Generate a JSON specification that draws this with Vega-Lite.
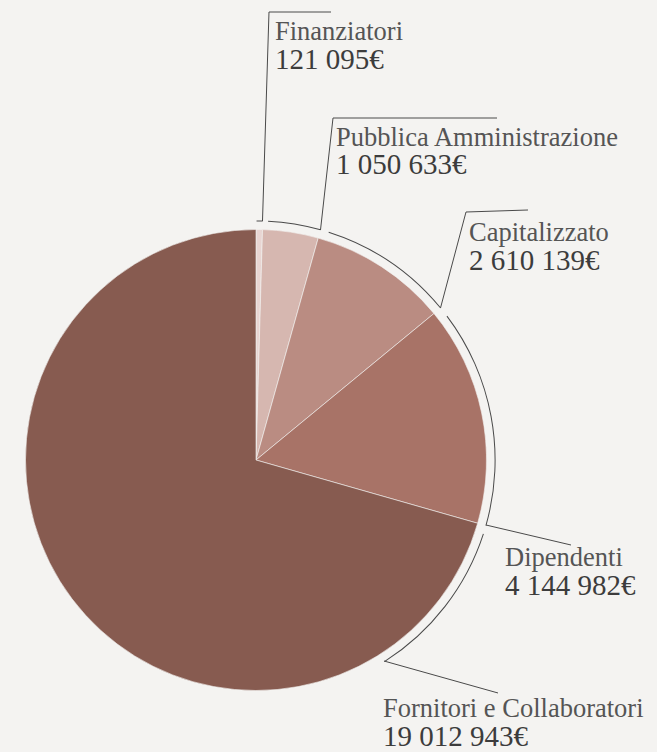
{
  "$schema": "https://vega.github.io/schema/vega-lite/v6.json",
  "width": 657,
  "height": 752,
  "autosize": {"type": "fit", "contains": "padding"},
  "padding": 0,
  "background": "#f4f3f1",
  "config": {
    "view": {"stroke": null},
    "locale": {"number": {"decimal": ",", "thousands": " ", "grouping": [3], "currency": ["", "€"]}}
  },
  "datasets": {
    "slices": [
      {"name": "Finanziatori", "value": 121095, "ord": 1, "lx": 0.0824, "ly": 1.8221},
      {"name": "Pubblica Amministrazione", "value": 1050633, "ord": 2, "lx": 0.3471, "ly": 1.3623},
      {"name": "Capitalizzato", "value": 2610139, "ord": 3, "lx": 0.9241, "ly": 0.9501},
      {"name": "Dipendenti", "value": 4144982, "ord": 4, "lx": 1.0803, "ly": -0.4599},
      {"name": "Fornitori e Collaboratori", "value": 19012943, "ord": 5, "lx": 0.551, "ly": -1.115}
    ],
    "ring": [
      {"name": "Finanziatori", "t0": 10000, "t1": 121095},
      {"name": "Pubblica Amministrazione", "t0": 217015, "t1": 1171728},
      {"name": "Capitalizzato", "t0": 1324540, "t1": 3781867},
      {"name": "Dipendenti", "t0": 3966136, "t1": 7926849},
      {"name": "Fornitori e Collaboratori", "t0": 8081938, "t1": 11037832}
    ],
    "leaders": [
      {"name": "Finanziatori", "seq": 1, "x": 0.0282, "y": 1.0369},
      {"name": "Finanziatori", "seq": 2, "x": 0.0564, "y": 1.9436},
      {"name": "Finanziatori", "seq": 3, "x": 0.3254, "y": 1.9436},
      {"name": "Pubblica Amministrazione", "seq": 1, "x": 0.2798, "y": 0.9978},
      {"name": "Pubblica Amministrazione", "seq": 2, "x": 0.3341, "y": 1.4837},
      {"name": "Pubblica Amministrazione", "seq": 3, "x": 1.0456, "y": 1.4837},
      {"name": "Capitalizzato", "seq": 1, "x": 0.8004, "y": 0.6594},
      {"name": "Capitalizzato", "seq": 2, "x": 0.9111, "y": 1.0759},
      {"name": "Capitalizzato", "seq": 3, "x": 1.18, "y": 1.0846},
      {"name": "Dipendenti", "seq": 1, "x": 0.9978, "y": -0.282},
      {"name": "Dipendenti", "seq": 2, "x": 1.3666, "y": -0.3688},
      {"name": "Fornitori e Collaboratori", "seq": 1, "x": 0.5553, "y": -0.872},
      {"name": "Fornitori e Collaboratori", "seq": 2, "x": 1.0499, "y": -1.0108}
    ]
  },
  "resolve": {"scale": {"x": "shared", "y": "shared", "theta": "shared"}},
  "layer": [
    {
      "data": {"name": "slices"},
      "mark": {"type": "arc", "outerRadius": 230.5, "stroke": "#f4f3f1", "strokeWidth": 0.6},
      "encoding": {
        "x": {"datum": 0, "type": "quantitative", "scale": {"domain": [-1.1106, 1.7397], "nice": false, "zero": false}, "axis": null},
        "y": {"datum": 0, "type": "quantitative", "scale": {"domain": [-1.2668, 1.9957], "nice": false, "zero": false}, "axis": null},
        "theta": {"field": "value", "type": "quantitative", "stack": true, "scale": {"domain": [0, 26939792], "range": [0, 6.283185307]}},
        "order": {"field": "ord", "type": "quantitative"},
        "color": {
          "field": "name", "type": "nominal", "legend": null,
          "scale": {
            "domain": ["Finanziatori", "Pubblica Amministrazione", "Capitalizzato", "Dipendenti", "Fornitori e Collaboratori"],
            "range": ["#e8d5d2", "#d6b7b0", "#ba8c82", "#a87367", "#875b50"]
          }
        }
      }
    },
    {
      "data": {"name": "ring"},
      "mark": {"type": "arc", "innerRadius": 238.6, "outerRadius": 239.6, "fill": "#4a4a4a"},
      "encoding": {
        "x": {"datum": 0, "type": "quantitative"},
        "y": {"datum": 0, "type": "quantitative"},
        "theta": {"field": "t0", "type": "quantitative"},
        "theta2": {"field": "t1"}
      }
    },
    {
      "data": {"name": "leaders"},
      "mark": {"type": "line", "color": "#4a4a4a", "strokeWidth": 1},
      "encoding": {
        "x": {"field": "x", "type": "quantitative"},
        "y": {"field": "y", "type": "quantitative"},
        "detail": {"field": "name"},
        "order": {"field": "seq", "type": "quantitative"}
      }
    },
    {
      "data": {"name": "slices"},
      "mark": {"type": "text", "align": "left", "baseline": "alphabetic", "font": "Liberation Serif, serif", "fontSize": 26.5, "color": "#555555"},
      "encoding": {
        "x": {"field": "lx", "type": "quantitative"},
        "y": {"field": "ly", "type": "quantitative"},
        "text": {"field": "name"}
      }
    },
    {
      "data": {"name": "slices"},
      "mark": {"type": "text", "align": "left", "baseline": "alphabetic", "dy": 28.5, "font": "Liberation Serif, serif", "fontSize": 29, "color": "#3c3c3c"},
      "encoding": {
        "x": {"field": "lx", "type": "quantitative"},
        "y": {"field": "ly", "type": "quantitative"},
        "text": {"field": "value", "type": "quantitative", "format": "$,.0f"}
      }
    }
  ]
}
